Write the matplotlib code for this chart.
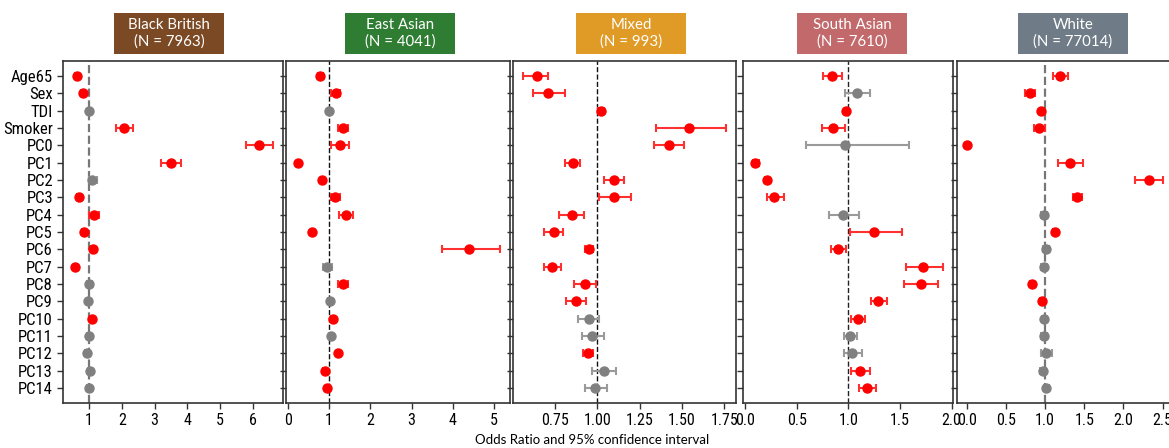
import matplotlib.pyplot as plt
from matplotlib.patches import Rectangle
import numpy as np

labels = ['Age65', 'Sex', 'TDI', 'Smoker', 'PC0', 'PC1', 'PC2', 'PC3', 'PC4', 'PC5',
          'PC6', 'PC7', 'PC8', 'PC9', 'PC10', 'PC11', 'PC12', 'PC13', 'PC14']

groups = ['Black British', 'East Asian', 'Mixed', 'South Asian', 'White']
group_n = [7963, 4041, 993, 7610, 77014]

# odds ratio, lower / upper 95% CI, significant (1 = red)
bb_or = [0.62, 0.82, 0.99, 2.06, 6.19, 3.49, 1.10, 0.68, 1.14, 0.84, 1.11, 0.575, 1.01, 0.97, 1.08, 0.99, 0.93, 1.02, 0.99]
bb_lo = [0.57, 0.76, 0.95, 1.81, 5.80, 3.19, 0.99, 0.62, 1.01, 0.78, 1.05, 0.53, 0.94, 0.92, 1.03, 0.94, 0.87, 0.97, 0.94]
bb_hi = [0.67, 0.88, 1.03, 2.34, 6.61, 3.82, 1.24, 0.74, 1.30, 0.90, 1.17, 0.62, 1.08, 1.02, 1.13, 1.04, 1.00, 1.07, 1.04]
bb_sig = [1, 1, 0, 1, 1, 1, 0, 1, 1, 1, 1, 1, 0, 0, 1, 0, 0, 0, 0]

ea_or = [0.79, 1.16, 1.01, 1.33, 1.26, 0.24, 0.82, 1.15, 1.41, 0.58, 4.38, 0.96, 1.34, 1.02, 1.10, 1.04, 1.23, 0.91, 0.96]
ea_lo = [0.73, 1.06, 0.99, 1.21, 1.06, 0.22, 0.80, 1.04, 1.24, 0.56, 3.74, 0.85, 1.23, 0.98, 1.05, 0.99, 1.21, 0.86, 0.93]
ea_hi = [0.85, 1.27, 1.03, 1.47, 1.48, 0.26, 0.84, 1.26, 1.59, 0.60, 5.14, 1.07, 1.45, 1.06, 1.15, 1.09, 1.25, 0.96, 0.99]
ea_sig = [1, 1, 0, 1, 1, 1, 1, 1, 1, 1, 1, 0, 1, 0, 1, 0, 1, 1, 1]

mx_or = [0.641, 0.708, 1.022, 1.539, 1.424, 0.854, 1.097, 1.101, 0.848, 0.741, 0.953, 0.732, 0.925, 0.874, 0.949, 0.970, 0.947, 1.037, 0.988]
mx_lo = [0.562, 0.617, 1.004, 1.349, 1.334, 0.811, 1.037, 1.012, 0.775, 0.686, 0.927, 0.682, 0.860, 0.813, 0.884, 0.907, 0.915, 0.970, 0.927]
mx_hi = [0.706, 0.811, 1.041, 1.758, 1.511, 0.899, 1.158, 1.199, 0.923, 0.799, 0.976, 0.783, 0.990, 0.933, 1.012, 1.039, 0.976, 1.109, 1.055]
mx_sig = [1, 1, 1, 1, 1, 1, 1, 1, 1, 1, 1, 1, 1, 1, 0, 0, 1, 0, 0]

sa_or = [0.842, 1.087, 0.977, 0.848, 0.971, 0.100, 0.210, 0.284, 0.945, 1.245, 0.903, 1.726, 1.700, 1.290, 1.094, 1.019, 1.039, 1.116, 1.181]
sa_lo = [0.752, 0.965, 0.965, 0.745, 0.587, 0.074, 0.190, 0.216, 0.813, 1.019, 0.829, 1.555, 1.539, 1.216, 1.026, 0.958, 0.955, 1.026, 1.103]
sa_hi = [0.942, 1.213, 0.990, 0.968, 1.590, 0.139, 0.230, 0.374, 1.103, 1.516, 0.977, 1.919, 1.871, 1.377, 1.161, 1.087, 1.129, 1.213, 1.265]
sa_sig = [1, 0, 1, 1, 0, 1, 1, 1, 0, 1, 1, 1, 1, 1, 1, 0, 0, 1, 1]

wh_or = [1.191, 0.804, 0.945, 0.923, 0.003, 1.319, 2.328, 1.409, 0.987, 1.123, 1.009, 0.987, 0.830, 0.962, 0.987, 0.983, 1.013, 0.974, 1.013]
wh_lo = [1.106, 0.749, 0.930, 0.855, 0.001, 1.170, 2.153, 1.353, 0.950, 1.095, 0.970, 0.950, 0.805, 0.935, 0.955, 0.950, 0.945, 0.940, 0.980]
wh_hi = [1.289, 0.872, 0.960, 0.996, 0.006, 1.481, 2.511, 1.468, 1.030, 1.155, 1.050, 1.030, 0.860, 0.990, 1.020, 1.020, 1.085, 1.010, 1.050]
wh_sig = [1, 1, 1, 1, 1, 1, 1, 1, 0, 1, 0, 0, 1, 1, 0, 0, 0, 0, 0]

all_or = [bb_or, ea_or, mx_or, sa_or, wh_or]
all_lo = [bb_lo, ea_lo, mx_lo, sa_lo, wh_lo]
all_hi = [bb_hi, ea_hi, mx_hi, sa_hi, wh_hi]
all_sig = [bb_sig, ea_sig, mx_sig, sa_sig, wh_sig]

box_colors = ['#7b4a25', '#2e7d32', '#e09a26', '#c26a6b', '#6f7c87']

W, H = 1169, 448
fig = plt.figure(figsize=(W / 100, H / 100), dpi=100)

# panel edges in pixels (left, right), top/bottom shared
panel_px = [(62.7, 283.3), (286.0, 510.3), (513.3, 736.0), (743.3, 952.7), (956.7, 1172.0)]
top_px, bot_px = 61.0, 403.3
xlims = [(0.19, 6.94), (-0.04, 5.39), (0.503, 1.819), (-0.016, 2.01), (-0.128, 2.62)]
xticks = [[1, 2, 3, 4, 5, 6], [0, 1, 2, 3, 4, 5], [0.75, 1.0, 1.25, 1.5, 1.75],
          [0.0, 0.5, 1.0, 1.5, 2.0], [0.0, 0.5, 1.0, 1.5, 2.0, 2.5]]
xfmt = ['{:g}', '{:g}', '{:.2f}', '{:.1f}', '{:.1f}']
vline_style = [('#777777', 1.6), ('#111111', 1.0), ('#111111', 1.0), ('#222222', 1.0), ('#777777', 1.6)]
box_cx = [169, 400, 631, 852, 1073]

tick_font = ['Roboto Condensed', 'DejaVu Sans']
y = np.arange(len(labels))

for i in range(5):
    l, r = panel_px[i]
    ax = fig.add_axes([l / W, 1 - bot_px / H, (r - l) / W, (bot_px - top_px) / H])
    ors = np.array(all_or[i])
    lo = np.array(all_lo[i])
    hi = np.array(all_hi[i])
    sig = np.array(all_sig[i]) == 1

    for mask, mc, ec in [(~sig, '#808080', '#9a9a9a'), (sig, '#ff0000', '#ff3030')]:
        ax.errorbar(ors[mask], y[mask], xerr=[ors[mask] - lo[mask], hi[mask] - ors[mask]],
                    fmt='o', color=mc, ecolor=ec, ms=6.5, elinewidth=1.5,
                    capsize=3, capthick=1.5, zorder=3)

    vc, vlw = vline_style[i]
    ax.axvline(1, color=vc, ls='--', lw=vlw, zorder=2)

    ax.set_xlim(*xlims[i])
    ax.set_ylim(len(labels) - 1 + 0.88, -0.87)
    ax.set_yticks(y)
    if i == 0:
        ax.set_yticklabels(labels, family=tick_font, fontsize=12)
    else:
        ax.set_yticklabels([])
    ax.set_xticks(xticks[i])
    ax.set_xticklabels([xfmt[i].format(t) for t in xticks[i]], family=tick_font, fontsize=11.5)
    ax.tick_params(length=4, width=1, color='#333333', pad=3)
    for sp in ax.spines.values():
        sp.set_color('#333333')
        sp.set_linewidth(1.2)

    # coloured group header
    bw, bh = 110, 41
    fig.patches.append(Rectangle(((box_cx[i] - bw / 2) / W, 1 - 54 / H), bw / W, bh / H,
                                 transform=fig.transFigure, facecolor=box_colors[i],
                                 edgecolor='none'))
    fig.text(box_cx[i] / W, 1 - 33.5 / H, f'{groups[i]}\n(N = {group_n[i]})',
             ha='center', va='center', color='white', fontsize=10.8,
             family='Lato', linespacing=1.2)

fig.text(592 / W, 1 - 440 / H, 'Odds Ratio and 95% confidence interval',
         ha='center', va='center', fontsize=9.5, family='Lato')

plt.savefig('out.png', dpi=100)
